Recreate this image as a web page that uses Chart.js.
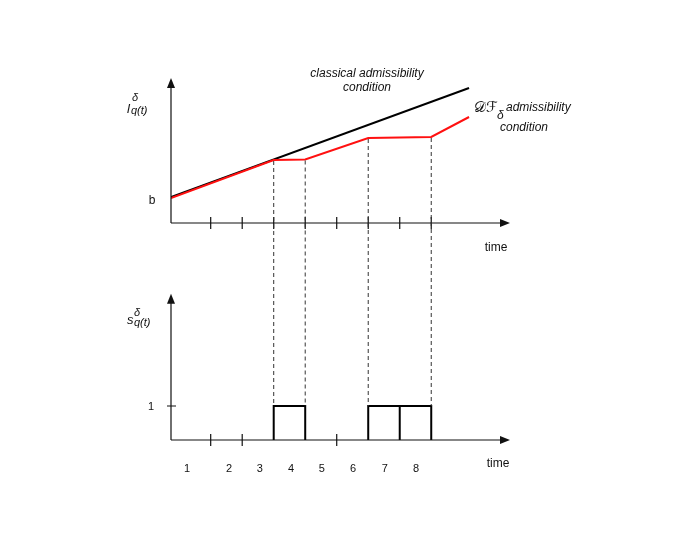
<!DOCTYPE html>
<html>
<head>
<meta charset="utf-8">
<script src="https://cdn.jsdelivr.net/npm/chart.js@4/dist/chart.umd.min.js"></script>
<style>
    body { margin: 0; background: #fff; }
</style>
</head>
<body>
<canvas id="graph1" width="699" height="540"></canvas>
<script>
// axe du temps
var tMin = -0.26, tMax = 10.5;
var ticksHaut = [1, 2, 3, 4, 5, 6, 7, 8];
var ticksBas = [1, 2, 5];
var labelsTemps = ['1', '2', '3', '4', '5', '6', '7', '8'];
var posLabels = [0.25, 1.58, 2.56, 3.55, 4.53, 5.52, 6.53, 7.52];

// graphe du haut : l_q(t)
var classiqueT = [-0.26, 9.2];
var classiqueV = [2.6, 13.5];
var dfT = [-0.26, 3, 4, 6, 8, 9.2];
var dfV = [2.5, 6.3, 6.35, 8.5, 8.6, 10.6];
var niveauB = 2.5;

// graphe du bas : s_q(t) = 1 sur ces intervalles
var creneauDebut = [3, 6, 7];
var creneauFin = [4, 7, 8];
var niveauUn = 1;

// pointilles entre les deux graphes
var pointilles = [3, 4, 6, 8];


var dataClassique = [];
for (let i = 0; i < classiqueT.length; i++) {
    dataClassique.push({ x: classiqueT[i], y: classiqueV[i] })
}
var dataDF = [];
for (let i = 0; i < dfT.length; i++) {
    dataDF.push({ x: dfT[i], y: dfV[i] })
}
var dataCreneaux = [];
for (let i = 0; i < creneauDebut.length; i++) {
    dataCreneaux.push({ x: creneauDebut[i], y: 0 })
    dataCreneaux.push({ x: creneauDebut[i], y: niveauUn })
    dataCreneaux.push({ x: creneauFin[i], y: niveauUn })
    dataCreneaux.push({ x: creneauFin[i], y: 0 })
    dataCreneaux.push({ x: creneauFin[i], y: null })
}


function fleche(ctx, x, y, dir) {
    ctx.beginPath();
    if (dir === 'haut') {
        ctx.moveTo(x, y);
        ctx.lineTo(x - 4, y + 10);
        ctx.lineTo(x + 4, y + 10);
    } else {
        ctx.moveTo(x, y);
        ctx.lineTo(x - 10, y - 4);
        ctx.lineTo(x - 10, y + 4);
    }
    ctx.closePath();
    ctx.fill();
}

var dessin = {
    id: 'dessin',
    afterDatasetsDraw(chart) {
        var ctx = chart.ctx;
        var sx = chart.scales.x, yH = chart.scales.yHaut, yB = chart.scales.yBas;
        var x0 = sx.getPixelForValue(tMin);
        var xFin = sx.getPixelForValue(tMax);
        ctx.save();
        ctx.strokeStyle = '#111';
        ctx.fillStyle = '#111';
        ctx.lineWidth = 1.2;

        // axes du haut
        var y0 = yH.getPixelForValue(0);
        var yTop = yH.getPixelForValue(14.5);
        ctx.beginPath();
        ctx.moveTo(x0, y0); ctx.lineTo(x0, yTop + 8);
        ctx.moveTo(x0, y0); ctx.lineTo(xFin - 8, y0);
        ctx.stroke();
        fleche(ctx, x0, yTop, 'haut');
        fleche(ctx, xFin, y0, 'droite');
        ctx.beginPath();
        ticksHaut.forEach(t => {
            var px = sx.getPixelForValue(t);
            ctx.moveTo(px, y0 - 6); ctx.lineTo(px, y0 + 6);
        });
        ctx.stroke();

        // axes du bas
        var b0 = yB.getPixelForValue(0);
        var bTop = yB.getPixelForValue(4.3);
        ctx.beginPath();
        ctx.moveTo(x0, b0); ctx.lineTo(x0, bTop + 8);
        ctx.moveTo(x0, b0); ctx.lineTo(xFin - 8, b0);
        ctx.stroke();
        fleche(ctx, x0, bTop, 'haut');
        fleche(ctx, xFin, b0, 'droite');
        ctx.beginPath();
        ticksBas.forEach(t => {
            var px = sx.getPixelForValue(t);
            ctx.moveTo(px, b0 - 6); ctx.lineTo(px, b0 + 6);
        });
        var b1 = yB.getPixelForValue(niveauUn);
        ctx.moveTo(x0 - 4, b1); ctx.lineTo(x0 + 5, b1);
        ctx.stroke();

        // pointilles
        ctx.setLineDash([4, 3]);
        ctx.strokeStyle = '#333';
        ctx.lineWidth = 1;
        ctx.beginPath();
        pointilles.forEach(t => {
            var px = sx.getPixelForValue(t);
            var v = dfV[dfT.indexOf(t)];
            ctx.moveTo(px, yH.getPixelForValue(v) + 1); ctx.lineTo(px, b1);
        });
        ctx.stroke();
        ctx.setLineDash([]);

        // textes
        ctx.fillStyle = '#111';
        ctx.textBaseline = 'alphabetic';
        ctx.textAlign = 'center';
        ctx.font = '11px "Liberation Sans"';
        for (let i = 0; i < labelsTemps.length; i++) {
            ctx.fillText(labelsTemps[i], sx.getPixelForValue(posLabels[i]), 472);
        }
        ctx.font = '12px "Liberation Sans"';
        ctx.fillText('time', 496, 251);
        ctx.fillText('time', 498, 467);
        ctx.fillText('b', 152, yH.getPixelForValue(niveauB) + 6);
        ctx.font = '11px "Liberation Sans"';
        ctx.fillText('1', 151, b1 + 4);

        ctx.font = 'italic 12px "Liberation Sans"';
        ctx.fillText('classical admissibility', 367, 77);
        ctx.fillText('condition', 367, 91);
        ctx.fillText('condition', 524, 131);
        ctx.textAlign = 'left';
        ctx.fillText('admissibility', 506, 111);
        ctx.font = '15px "DejaVu Sans"';
        ctx.fillText('\u{1D49F}\u2131', 474, 112);
        ctx.font = 'italic 12px "Liberation Sans"';
        ctx.fillText('\u03B4', 497, 119);

        // libelles des axes
        ctx.font = 'italic 13px "Liberation Sans"';
        ctx.fillText('l', 127, 113);
        ctx.fillText('s', 127, 324);
        ctx.font = 'italic 11px "Liberation Sans"';
        ctx.fillText('\u03B4', 132, 101);
        ctx.fillText('q(t)', 131, 114);
        ctx.fillText('\u03B4', 134, 316);
        ctx.fillText('q(t)', 134, 326);
        ctx.restore();
    }
};


var ctx = document.getElementById('graph1').getContext('2d');
var data = {
    datasets: [{
        label: 'DF',
        data: dataDF,
        yAxisID: 'yHaut',
        borderColor: '#ff1010',
        borderWidth: 2,
        pointRadius: 0
    }, {
        label: 'classical',
        data: dataClassique,
        yAxisID: 'yHaut',
        borderColor: '#000',
        borderWidth: 2,
        pointRadius: 0
    }, {
        label: 's',
        data: dataCreneaux,
        yAxisID: 'yBas',
        borderColor: '#000',
        borderWidth: 2,
        pointRadius: 0,
        spanGaps: false
    }]
}
var options = {
    responsive: false,
    animation: false,
    layout: { padding: { left: 171, right: 189, top: 78, bottom: 100 } },
    plugins: { legend: { display: false }, tooltip: { enabled: false } },
    scales: {
        x: { type: 'linear', min: tMin, max: tMax, display: false },
        yHaut: { type: 'linear', min: -21.7, max: 14.5, display: false },
        yBas: { type: 'linear', min: 0, max: 10.65, display: false }
    }
}
var config = {
    type: 'line',
    data: data,
    options: options,
    plugins: [dessin]
}
var graph1 = new Chart(ctx, config)
</script>
</body>
</html>
